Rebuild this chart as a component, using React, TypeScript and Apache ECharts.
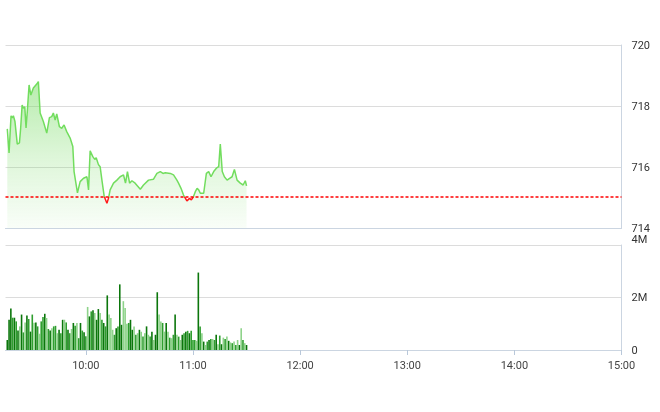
import React, { useEffect, useRef } from "react";
import * as echarts from "echarts";

// Price line: time (minutes since midnight) and price
const lineTimes = [
  556.0, 557.0, 558.1, 558.8, 559.4, 560.3, 561.6, 562.8, 563.5, 564.3, 565.0, 565.8, 566.5, 567.2,
  568.2, 569.2, 570.6, 572.5, 573.4, 574.4, 576.2, 578.1, 579.6, 580.9, 581.8, 582.8, 583.7, 585.2,
  586.5, 587.8, 589.3, 591.2, 592.7, 593.4, 595.3, 596.8, 598.7, 600.6, 601.5, 602.4, 603.9, 605.0,
  605.8, 607.1, 608.0, 609.0, 610.3, 611.8, 612.7, 613.6, 615.5, 617.4, 619.2, 621.1, 622.2, 623.3,
  624.5, 625.8, 627.6, 630.5, 632.3, 635.1, 637.9, 639.8, 641.7, 643.2, 644.5, 647.3, 649.1, 651.0,
  651.9, 653.3, 654.7, 656.6, 658.1, 659.1, 660.3, 661.3, 662.3, 663.2, 664.1, 666.0, 667.5, 668.8,
  670.1, 671.6, 673.1, 674.4, 675.3, 676.4, 677.6, 679.1, 680.5, 681.9, 683.2, 684.7, 686.5, 688.1,
  689.3, 690.0,
];
const lineValues = [
  717.25, 716.46, 717.68, 717.61, 717.68, 717.49, 716.75, 716.79, 717.28, 718.03, 717.93, 717.97, 717.28, 717.81,
  718.69, 718.36, 718.59, 718.72, 718.8, 717.77, 717.49, 717.11, 717.62, 717.65, 717.77, 717.54, 717.74, 717.32,
  717.27, 717.38, 717.16, 716.95, 716.67, 715.85, 715.15, 715.52, 715.63, 715.68, 715.25, 716.53, 716.34, 716.25,
  716.3, 716.07, 716.01, 715.57, 715.03, 714.81, 714.98, 715.25, 715.47, 715.57, 715.68, 715.74, 715.47, 715.85,
  715.47, 715.55, 715.47, 715.27, 715.41, 715.57, 715.6, 715.79, 715.85, 715.79, 715.81, 715.79, 715.74, 715.57,
  715.47, 715.3, 715.08, 714.89, 714.97, 714.92, 715.03, 715.19, 715.3, 715.25, 715.14, 715.14, 715.79, 715.85,
  715.68, 715.85, 715.96, 716.01, 716.75, 715.85, 715.68, 715.57, 715.63, 715.68, 715.92, 715.57, 715.47, 715.41,
  715.55, 715.38,
];
const refPrice = 715.02;

// Volume bars (millions), one per minute from 9:16
const volStart = 556;
const volumesEarly = [
  0.38, 1.15, 1.58, 1.23, 1.23, 1.09, 0.74, 0.9, 1.35, 0.67, 1.05, 1.31, 1.18, 0.7, 1.35, 1.04, 1.05, 0.9, 0.62, 1.09,
  1.26, 1.38, 1.22, 0.8, 0.74, 0.83, 0.9, 0.92, 0.64, 0.77, 0.64, 1.15, 1.15, 1.05, 0.77, 0.64, 0.8, 1.03, 0.92, 1.03,
  0.45, 1.03,
];
const volumesMid = [
  0.74, 0.68, 0.52, 1.64, 1.28, 1.47, 1.51, 1.41, 1.15, 1.56, 1.41, 1.15, 1.03, 0.9, 2.08, 1.35, 1.22, 0.77, 0.58, 0.83,
  0.9, 2.5, 0.96, 1.86, 1.6, 1.0, 1.03, 1.15, 0.77, 0.9, 0.58, 0.64, 0.77, 0.7, 0.51, 0.64, 0.9, 0.58, 0.51, 0.7,
  0.38, 0.58, 2.2,
];
const volumesLate = [
  1.35, 1.09, 1.03, 0.7, 1.03, 0.7, 0.47, 0.45, 0.58, 1.35, 0.58, 0.51, 0.38, 0.58, 0.64, 0.7, 0.73, 0.64, 0.73, 0.38,
  0.38, 0.35, 2.95, 0.9, 0.64, 0.32, 0.19, 0.32, 0.38, 0.42, 0.42, 0.38, 0.58, 0.22, 0.55, 0.22, 0.47, 0.42, 0.51, 0.35,
  0.29, 0.26, 0.32, 0.19, 0.38, 0.19, 0.83, 0.38, 0.26, 0.19,
];
// d = dark, m = medium, l = light green
const volShades =
  "dddmdmdldmldmdmldmlmmdlmdlmmldmdlmdmldmlmd" +
  "mdmldmdlddlmdmdlllmdmddlllmddlmldlmldlmdldd" +
  "llmldlmlmdlmldmdmdmmmldmldlmdmlmdlmdlmldlmlmldlmld";

// session axis: 9:15 .. 15:00 (minutes since midnight), labelled on the hour
const sessionStart = 555;
const sessionEnd = 900;
const priceTicks = { min: 714, max: 720, interval: 2 };
const volTicks = { min: 0, max: 4, interval: 2 };

const shadeColor: Record<string, string> = { d: "#0b760b", m: "#2f9f2f", l: "#8ed38a" };

function fmtTime(v: number) {
  const h = Math.floor(v / 60);
  const m = Math.round(v - h * 60);
  return `${h}:${m < 10 ? "0" : ""}${m}`;
}

export default function App() {
  const ref = useRef<HTMLDivElement>(null);
  useEffect(() => {
    if (!ref.current) return;
    const chart = echarts.init(ref.current, undefined, { renderer: "svg" });
    const minutes: number[] = [];
    for (let t = sessionStart; t <= sessionEnd; t++) minutes.push(t);
    const categories = minutes.map(fmtTime);
    const volumes = [...volumesEarly, ...volumesMid, ...volumesLate];
    const barData = volumes.map((v, i) => ({
      value: [fmtTime(volStart + i), v],
      itemStyle: { color: shadeColor[volShades[i] || "m"] },
    }));
    const lineData = lineTimes.map((t, i) => [t, lineValues[i]]);
    const onHour = (i: number) => minutes[i] % 60 === 0;
    const axisColor = "#cbd5e1";
    const gridColor = "#dcdcdc";
    const labelStyle = { color: "#333", fontFamily: "Roboto", fontSize: 11 };
    chart.setOption({
      animation: false,
      grid: [
        { left: 5.5, right: 38.5, top: 45, height: 183 },
        { left: 5.5, right: 38.5, top: 245, height: 105 },
      ],
      xAxis: [
        {
          type: "value",
          gridIndex: 0,
          min: sessionStart,
          max: sessionEnd,
          axisLine: { show: true, lineStyle: { color: axisColor } },
          axisTick: { show: false },
          axisLabel: { show: false },
          splitLine: { show: false },
        },
        {
          type: "category",
          gridIndex: 1,
          data: categories,
          boundaryGap: false,
          axisLine: { show: true, lineStyle: { color: axisColor } },
          axisTick: { show: true, length: 5, interval: onHour, lineStyle: { color: "#b9c8da" } },
          axisLabel: { ...labelStyle, color: "#444", margin: 10, interval: onHour },
          splitLine: { show: false },
        },
      ],
      yAxis: [
        {
          type: "value",
          gridIndex: 0,
          position: "right",
          min: priceTicks.min,
          max: priceTicks.max,
          interval: priceTicks.interval,
          axisLine: { show: true, lineStyle: { color: axisColor } },
          axisTick: { show: false },
          axisLabel: { ...labelStyle, margin: 10 },
          splitLine: { show: true, lineStyle: { color: gridColor } },
        },
        {
          type: "value",
          gridIndex: 1,
          position: "right",
          min: volTicks.min,
          max: volTicks.max,
          interval: volTicks.interval,
          axisLine: { show: true, lineStyle: { color: axisColor } },
          axisTick: { show: false },
          axisLabel: {
            ...labelStyle,
            margin: 10,
            verticalAlignMaxLabel: "bottom",
            formatter: (v: number) => (v === 0 ? "0" : `${v}M`),
          },
          splitLine: { show: true, lineStyle: { color: gridColor } },
        },
      ],
      visualMap: {
        show: false,
        type: "piecewise",
        seriesIndex: 0,
        dimension: 1,
        pieces: [
          { gte: priceTicks.min - 10, lt: refPrice, color: "#ff1a1a" },
          { gte: refPrice, lte: priceTicks.max + 10, color: "#72dd5e" },
        ],
      },
      series: [
        {
          type: "line",
          xAxisIndex: 0,
          yAxisIndex: 0,
          data: lineData,
          showSymbol: false,
          lineStyle: { width: 1.5 },
          areaStyle: {
            origin: "start",
            color: new echarts.graphic.LinearGradient(0, 0, 0, 1, [
              { offset: 0, color: "rgba(115,218,95,0.72)" },
              { offset: 0.5, color: "rgba(115,218,95,0.35)" },
              { offset: 1, color: "rgba(115,218,95,0.06)" },
            ]),
          },
          markLine: {
            silent: true,
            symbol: ["none", "none"],
            label: { show: false },
            lineStyle: { color: "#ff0000", type: [3, 2], width: 1.5 },
            data: [{ yAxis: refPrice }],
          },
          z: 3,
        },
        {
          type: "bar",
          xAxisIndex: 1,
          yAxisIndex: 1,
          data: barData,
          barWidth: 1.6,
        },
      ],
    });
    return () => chart.dispose();
  }, []);
  return <div ref={ref} style={{ position: "fixed", left: 0, top: 0, width: 660, height: 412 }} />;
}
